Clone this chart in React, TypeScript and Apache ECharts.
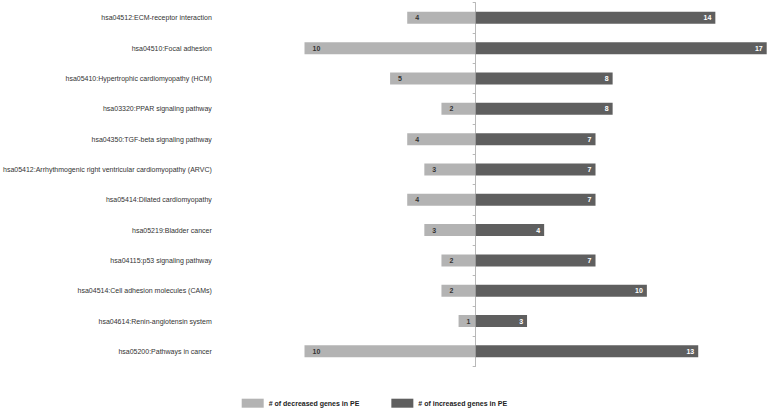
import React, { useEffect, useRef } from "react";
import * as echarts from "echarts";

const categories = [
  "hsa04512:ECM-receptor interaction",
  "hsa04510:Focal adhesion",
  "hsa05410:Hypertrophic cardiomyopathy (HCM)",
  "hsa03320:PPAR signaling pathway",
  "hsa04350:TGF-beta signaling pathway",
  "hsa05412:Arrhythmogenic right ventricular cardiomyopathy (ARVC)",
  "hsa05414:Dilated cardiomyopathy",
  "hsa05219:Bladder cancer",
  "hsa04115:p53 signaling pathway",
  "hsa04514:Cell adhesion molecules (CAMs)",
  "hsa04614:Renin-angiotensin system",
  "hsa05200:Pathways in cancer",
];
const decreased = [4, 10, 5, 2, 4, 3, 4, 3, 2, 2, 1, 10];
const increased = [14, 17, 8, 8, 7, 7, 7, 4, 7, 10, 3, 13];
const seriesNames = ["# of decreased genes in PE", "# of increased genes in PE"];

const FONT = "'Liberation Sans', Arial, sans-serif";

export default function App() {
  const ref = useRef<HTMLDivElement>(null);
  useEffect(() => {
    if (!ref.current) return;
    const chart = echarts.init(ref.current, undefined, { renderer: "svg" });
    chart.setOption({
      animation: false,
      backgroundColor: "#ffffff",
      grid: { left: 302.7, right: 2.3, top: 2.7, bottom: 43.5, containLabel: false },
      legend: {
        left: 241.7,
        top: 398.7,
        padding: 0,
        itemWidth: 22,
        itemHeight: 9,
        itemGap: 32,
        icon: "rect",
        textStyle: { fontSize: 7, fontWeight: "bold", color: "#222", fontFamily: FONT },
        data: seriesNames,
      },
      xAxis: { type: "value", min: -10, max: 17, show: false },
      yAxis: [
        {
          type: "category",
          data: categories,
          inverse: true,
          position: "left",
          axisLine: { show: true, onZero: true, lineStyle: { color: "#b8b8b8", width: 1 } },
          axisTick: { show: true, length: 3, lineStyle: { color: "#b8b8b8" } },
          axisLabel: { show: false },
          splitLine: { show: false },
        },
        {
          type: "category",
          data: categories,
          inverse: true,
          position: "left",
          axisLine: { show: false, onZero: false },
          axisTick: { show: false },
          axisLabel: { show: true, margin: 92.7, fontSize: 7, color: "#333", fontFamily: FONT },
          splitLine: { show: false },
        },
      ],
      series: [
        {
          name: seriesNames[0],
          type: "bar",
          stack: "total",
          yAxisIndex: 0,
          barWidth: 12,
          itemStyle: { color: "#b3b3b3" },
          data: decreased.map((v) => -v),
          label: {
            show: true,
            position: "insideLeft",
            distance: 8,
            formatter: (p: any) => String(Math.abs(p.value)),
            fontSize: 7,
            fontWeight: "bold",
            color: "#333",
            fontFamily: FONT,
          },
        },
        {
          name: seriesNames[1],
          type: "bar",
          stack: "total",
          yAxisIndex: 0,
          barWidth: 12,
          itemStyle: { color: "#5f5f5f" },
          data: increased,
          label: {
            show: true,
            position: "insideRight",
            distance: 4,
            fontSize: 7,
            fontWeight: "bold",
            color: "#ffffff",
            fontFamily: FONT,
          },
        },
      ],
    });
    return () => chart.dispose();
  }, []);
  return (
    <div
      ref={ref}
      style={{ position: "absolute", left: 0, top: 0, width: 769, height: 410 }}
    />
  );
}
